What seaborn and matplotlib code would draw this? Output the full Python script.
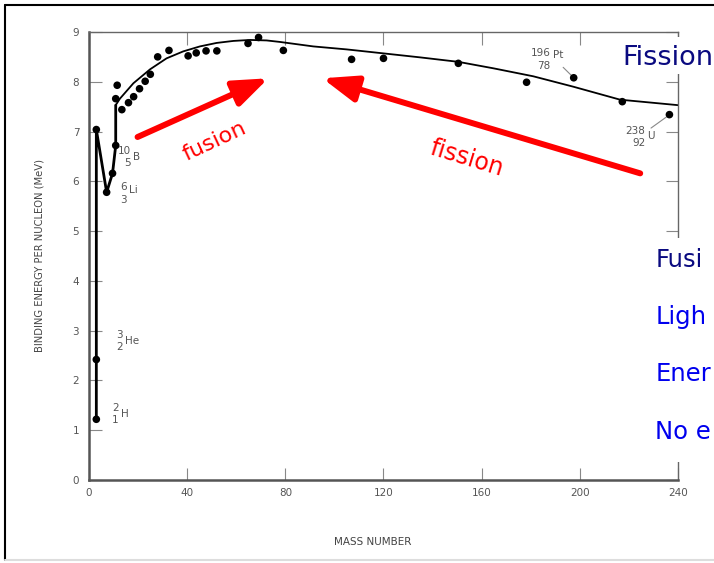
import numpy as np
import pandas as pd
import seaborn as sns
import matplotlib.pyplot as plt
from matplotlib.patches import Rectangle
from matplotlib.lines import Line2D

# measured nuclides (mass number, binding energy per nucleon in MeV)
mass = [3, 3, 3, 7.2, 9.6, 10.9, 10.9, 11.5, 13.4, 16.1, 18.2, 20.6, 22.9, 25.0, 28.0,
        32.6, 40.4, 43.7, 47.7, 52.1, 64.8, 69.1, 79.2, 107.0, 120.0, 150.5, 178.3,
        197.5, 217.3, 236.5]
be = [1.22, 2.42, 7.04, 5.78, 6.16, 6.72, 7.66, 7.93, 7.44, 7.58, 7.70, 7.86, 8.01,
      8.15, 8.50, 8.63, 8.52, 8.58, 8.62, 8.62, 8.77, 8.89, 8.63, 8.45, 8.47, 8.37,
      7.99, 8.08, 7.60, 7.34]

# zig-zag through the light nuclei
light_mass = [3, 3, 7.2, 9.6, 10.9, 10.9]
light_be = [1.22, 7.04, 5.78, 6.16, 6.72, 7.53]

# smooth trend curve
curve_mass = [10.9, 12.6, 18.1, 24.9, 31.6, 38.4, 45.2, 52.0, 58.8, 65.6, 72.4, 77.8,
              91.4, 105.0, 120.0, 134.9, 150.5, 164.8, 181.0, 197.4, 216.4, 240.0]
curve_be = [7.53, 7.66, 7.97, 8.25, 8.47, 8.61, 8.71, 8.78, 8.82, 8.84, 8.83, 8.80,
            8.71, 8.65, 8.57, 8.49, 8.40, 8.27, 8.11, 7.90, 7.64, 7.53]

# nuclide labels: mass number over atomic number, then symbol
nuc_a = ['2', '3', '6', '10', '196', '238']
nuc_z = ['1', '2', '3', '5', '78', '92']
nuc_sym = ['H', 'He', 'Li', 'B', 'Pt', 'U']
nuc_x = [12.4, 14.0, 15.7, 17.3, 188.3, 227.0]
nuc_y = [1.33, 2.79, 5.76, 6.49, 8.45, 6.89]
nuc_raise = [0, 0, 2, 0, 3, 1]

x_ticks = [0, 40, 80, 120, 160, 200, 240]
y_ticks = [0, 1, 2, 3, 4, 5, 6, 7, 8, 9]

slide_lines = ['Fusi', 'Ligh', 'Ener', 'No e']
slide_colors = ['#0a0a80', '#0000ee', '#0000ee', '#0000ee']

sns.set_style('white')
plt.rcParams['font.family'] = ['DejaVu Sans']

fig = plt.figure(figsize=(7.14, 5.63), dpi=100)
ax = fig.add_axes([0.1246, 0.1474, 0.8250, 0.7958])

sns.lineplot(x=light_mass, y=light_be, sort=False, estimator=None, color='black',
             lw=2.0, ax=ax)
sns.lineplot(x=curve_mass, y=curve_be, sort=False, estimator=None, color='black',
             lw=1.3, ax=ax)
sns.scatterplot(x=mass, y=be, color='black', s=30, edgecolor='none', ax=ax, zorder=3)

ax.set_xlim(0, 240)
ax.set_ylim(0, 9)
ax.set_xticks(x_ticks)
ax.set_yticks(y_ticks)
ax.tick_params(direction='in', length=9, width=0.8, color='#888', top=True, right=True,
               bottom=True, left=True, labelsize=7.5, labelcolor='#555')
ax.tick_params(axis='x', pad=6)
ax.tick_params(axis='y', pad=7)
for side in ['left', 'bottom']:
    ax.spines[side].set_color('#555')
    ax.spines[side].set_linewidth(1.8)
for side in ['top', 'right']:
    ax.spines[side].set_color('#666')
    ax.spines[side].set_linewidth(1.0)

ax.set_xlabel('MASS NUMBER', fontsize=7.5, color='#444')
ax.set_ylabel('BINDING ENERGY PER NUCLEON (MeV)', fontsize=7.2, color='#444')
ax.xaxis.set_label_coords(0.481, -0.127)
ax.yaxis.set_label_coords(-0.075, 0.5)

for a, z, sym, nx, ny, up in zip(nuc_a, nuc_z, nuc_sym, nuc_x, nuc_y, nuc_raise):
    ax.annotate(a, (nx, ny), xytext=(-0.5, 4.3), textcoords='offset points',
                fontsize=7.5, color='#555', ha='right', va='center')
    ax.annotate(z, (nx, ny), xytext=(-0.5, -4.5), textcoords='offset points',
                fontsize=7.5, color='#555', ha='right', va='center')
    ax.annotate(sym, (nx, ny), xytext=(1.0, up), textcoords='offset points',
                fontsize=7.5, color='#555', ha='left', va='center')
# leader lines for Pt and U
ax.plot([193.2, 196.9], [8.29, 8.11], color='#888', lw=0.8)
ax.plot([229.0, 235.2], [7.07, 7.29], color='#888', lw=0.8)

# fusion / fission arrows
arrow = dict(arrowstyle='-|>,head_length=0.95,head_width=0.36', color='red', lw=4.3,
             mutation_scale=22, shrinkA=0, shrinkB=0)
ax.annotate('', xy=(73.1, 8.07), xytext=(19.8, 6.89), arrowprops=arrow)
ax.annotate('', xy=(95.1, 8.07), xytext=(224.6, 6.16), arrowprops=arrow)
ax.text(51.1, 6.81, 'fusion', color='red', fontsize=16, rotation=25,
        ha='center', va='center', rotation_mode='anchor')
ax.text(154.1, 6.47, 'fission', color='red', fontsize=17, rotation=-17,
        ha='center', va='center', rotation_mode='anchor')

# slide text boxes covering the right edge
fig.patches.append(Rectangle((0.857, 0.869), 0.2, 0.066, transform=fig.transFigure,
                             facecolor='white', edgecolor='none', zorder=2))
fig.patches.append(Rectangle((0.903, 0.179), 0.2, 0.398, transform=fig.transFigure,
                             facecolor='white', edgecolor='none', zorder=2))
fig.text(0.871, 0.897, 'Fission', color='#0a0a80', fontsize=19.5, va='center', zorder=4)
for i, (txt, col) in enumerate(zip(slide_lines, slide_colors)):
    fig.text(0.918, 0.538 - i * 0.1015, txt, color=col, fontsize=17.5, va='center', zorder=4)

# slide frame
fig.add_artist(Line2D([0.007, 1.0], [0.991, 0.991], color='black', lw=1.5))
fig.add_artist(Line2D([0.007, 0.007], [0.005, 0.991], color='black', lw=1.5))
fig.add_artist(Line2D([0.007, 1.0], [0.005, 0.005], color='#dddddd', lw=1.5))

fig.savefig('out.png', dpi=100)
